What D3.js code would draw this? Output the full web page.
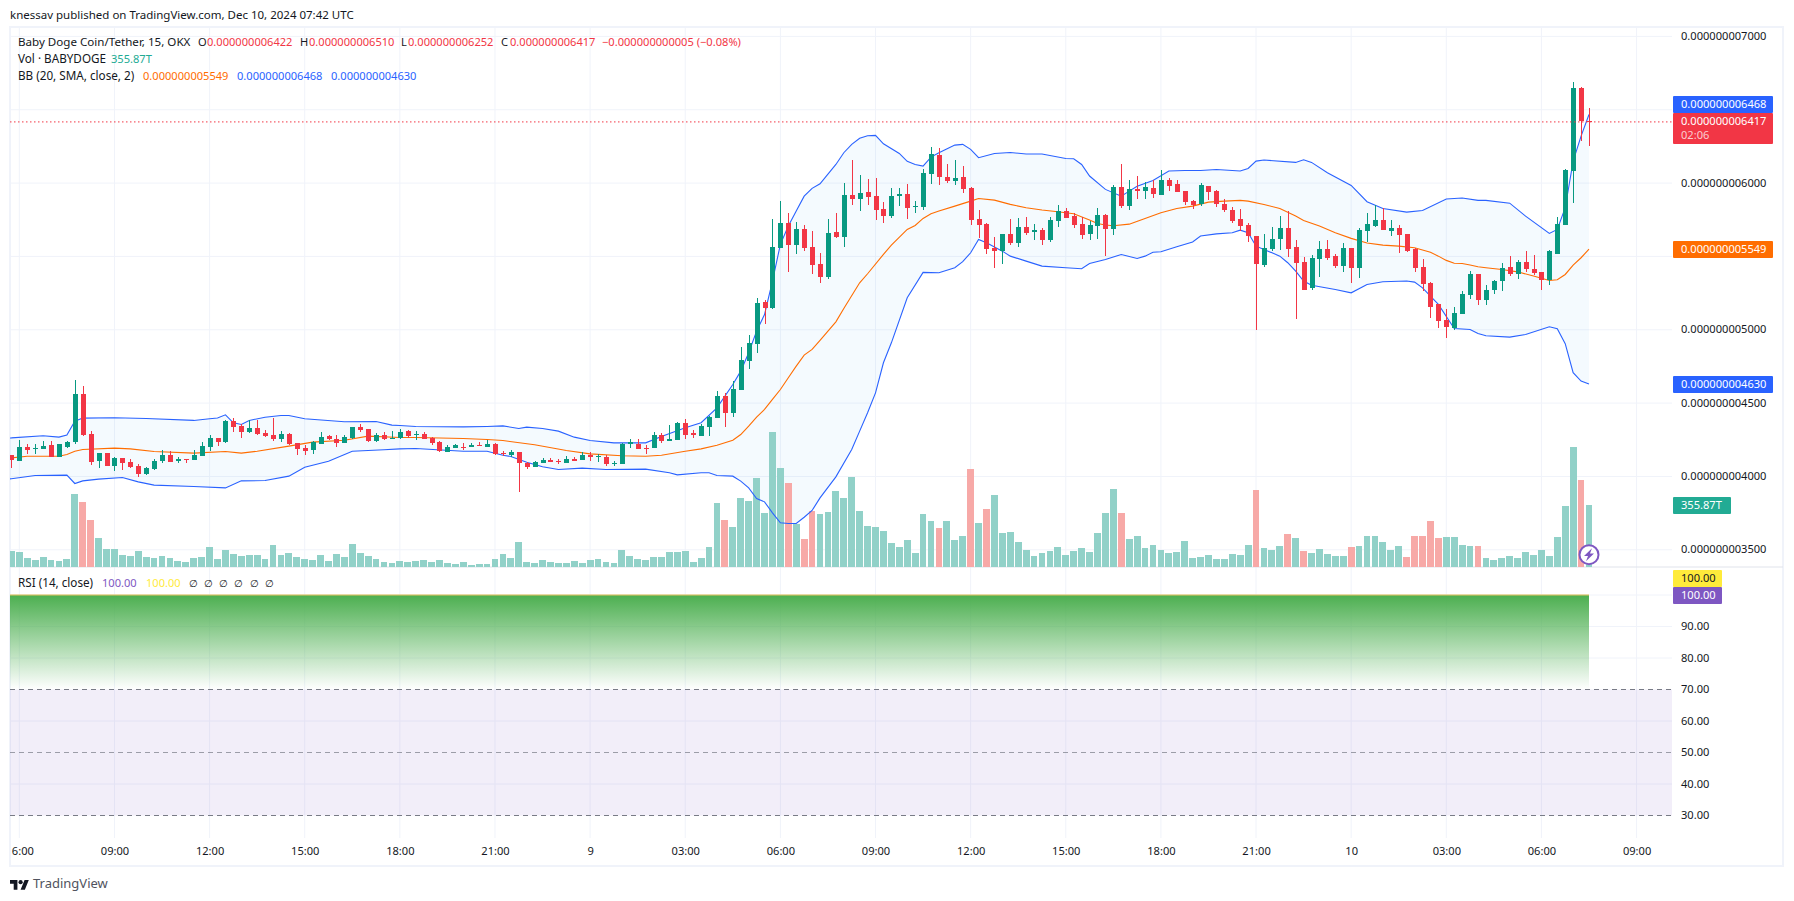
<!DOCTYPE html>
<html>
<head>
<meta charset="utf-8">
<script src="https://cdn.jsdelivr.net/npm/d3@7"></script>
<style>
  html, body { margin: 0; background: #fff; }
  svg { display: block; }
  text { font-family: "Noto Sans", sans-serif; font-size: 11.1px; fill: #131722; }
</style>
</head>
<body>
<svg id="chart" width="1794" height="901"></svg>
<script>
// prices are in units of 1e-12 USDT, bar 0 is the 05:45 candle of Dec 8
var barOpen = [
  4145,4104,4200,4188,4186,4213,4132,4204,4234,4561,
  4288,4104,4159,4070,4125,4097,4070,4016,4050,4104,
  4145,4104,4118,4111,4138,4200,4261,4234,4377,4343,
  4302,4329,4295,4282,4254,4288,4227,4193,4179,4220,
  4275,4254,4227,4261,4336,4322,4241,4282,4257,4263,
  4309,4282,4288,4261,4234,4166,4193,4204,4200,4213,
  4200,4220,4159,4145,4166,4091,4063,4091,4111,4104,
  4091,4118,4111,4145,4136,4132,4084,4084,4222,4220,
  4193,4193,4282,4241,4247,4363,4293,4275,4336,4398,
  4548,4432,4588,4786,4904,5189,5148,5557,5727,5577,
  5686,5564,5448,5359,5666,5632,5918,5891,5939,5911,
  5823,5775,5911,5925,5836,5836,6061,6191,6041,6014,
  6041,5966,5755,5720,5557,5536,5652,5591,5700,5668,
  5680,5611,5741,5809,5775,5720,5652,5707,5782,5686,
  5973,5843,5959,5945,5966,5918,6020,5993,5945,5877,
  5857,5979,5945,5857,5816,5754,5714,5639,5441,5550,
  5618,5693,5563,5461,5284,5482,5550,5502,5434,5557,
  5420,5673,5707,5748,5673,5693,5652,5550,5427,5318,
  5175,5066,5011,5107,5236,5379,5202,5270,5332,5427,
  5379,5461,5413,5393,5339,5516,5713,6082,6648,6422
];
var barHigh = [
  4145,4247,4218,4218,4245,4241,4220,4241,4657,4616,
  4313,4161,4159,4132,4125,4116,4086,4063,4116,4179,
  4172,4132,4122,4177,4232,4282,4261,4382,4398,4359,
  4384,4384,4320,4400,4307,4295,4227,4213,4241,4302,
  4282,4282,4282,4336,4357,4322,4295,4302,4309,4322,
  4320,4309,4300,4268,4241,4213,4220,4227,4227,4234,
  4247,4227,4172,4177,4166,4097,4104,4125,4125,4118,
  4138,4132,4166,4166,4152,4145,4104,4227,4254,4254,
  4213,4302,4295,4350,4370,4391,4316,4357,4411,4582,
  4568,4650,4882,4964,5216,5202,5755,5877,5795,5734,
  5714,5673,5523,5755,5795,6000,6157,6055,6027,6034,
  5870,5966,5966,5993,5877,6095,6245,6239,6130,6157,
  6116,5973,5816,5727,5632,5652,5755,5761,5768,5720,
  5693,5768,5850,5830,5795,5768,5741,5829,5788,5986,
  6130,6020,6048,6007,6020,6089,6034,6020,5945,5884,
  6000,5979,5952,5891,5836,5823,5727,5639,5652,5700,
  5775,5809,5611,5495,5509,5604,5611,5516,5591,5557,
  5693,5795,5850,5829,5748,5714,5652,5557,5482,5325,
  5175,5141,5154,5263,5400,5379,5304,5339,5454,5502,
  5475,5536,5509,5393,5543,5768,6095,6689,6654,6510
];
var barLow = [
  4059,4104,4154,4154,4186,4132,4132,4193,4222,4275,
  4079,4057,4070,4036,4043,4057,3995,4009,4045,4093,
  4097,4093,4091,4111,4138,4172,4207,4227,4302,4261,
  4295,4282,4268,4241,4234,4213,4145,4145,4152,4220,
  4247,4200,4227,4254,4302,4234,4234,4247,4254,4254,
  4263,4250,4254,4213,4166,4166,4191,4179,4200,4207,
  4200,4145,4138,4134,3893,4050,4063,4091,4097,4084,
  4091,4104,4111,4104,4097,4070,4070,4084,4193,4186,
  4152,4193,4227,4241,4247,4254,4261,4275,4275,4398,
  4336,4404,4588,4732,4841,5039,5141,5557,5393,5516,
  5536,5379,5318,5345,5625,5564,5850,5809,5850,5748,
  5727,5761,5843,5755,5795,5816,5993,5986,6000,5986,
  5932,5714,5625,5516,5420,5448,5577,5564,5645,5611,
  5577,5598,5700,5761,5693,5618,5611,5618,5502,5645,
  5829,5816,5891,5891,5898,5918,5945,5939,5850,5823,
  5843,5884,5836,5802,5727,5673,5598,4998,5427,5536,
  5543,5495,5073,5270,5270,5359,5475,5420,5393,5318,
  5352,5598,5700,5679,5639,5523,5529,5393,5263,5079,
  5011,4943,4998,5107,5209,5168,5168,5241,5263,5366,
  5345,5393,5373,5270,5304,5516,5713,5864,6286,6252
];
var barClose = [
  4111,4200,4179,4193,4207,4136,4220,4234,4561,4282,
  4097,4159,4070,4125,4091,4063,4016,4057,4104,4145,
  4097,4118,4111,4145,4207,4261,4234,4377,4336,4302,
  4329,4288,4275,4254,4288,4220,4186,4172,4236,4268,
  4254,4227,4268,4336,4316,4241,4282,4254,4263,4300,
  4275,4288,4254,4227,4172,4200,4213,4200,4213,4207,
  4220,4152,4152,4166,4091,4063,4097,4111,4097,4097,
  4118,4104,4145,4132,4141,4084,4091,4220,4234,4186,
  4186,4282,4241,4254,4363,4282,4286,4343,4404,4548,
  4432,4595,4793,4909,5182,5148,5564,5727,5577,5686,
  5557,5441,5359,5659,5632,5918,5891,5932,5905,5816,
  5775,5911,5925,5830,5843,6068,6198,6041,6014,6034,
  5959,5748,5714,5550,5536,5652,5591,5700,5659,5680,
  5611,5748,5809,5761,5714,5645,5714,5782,5686,5973,
  5843,5959,5945,5973,5925,6020,5979,5939,5870,5850,
  5986,5939,5857,5816,5741,5707,5639,5448,5557,5618,
  5693,5550,5454,5270,5488,5550,5488,5434,5557,5420,
  5679,5720,5748,5679,5693,5645,5536,5420,5311,5154,
  5059,5018,5113,5243,5379,5202,5270,5332,5420,5379,
  5461,5413,5386,5339,5536,5720,6089,6648,6422,6417
];
// volume in T (1e12 BABYDOGE)
var barVolume = [
  92,86,52,40,57,40,34,46,419,373,
  270,166,103,103,69,63,92,57,52,63,
  52,34,29,52,57,115,46,98,75,63,
  69,69,46,126,69,80,57,46,40,69,
  34,75,57,132,80,63,46,29,23,34,
  29,34,40,29,40,23,17,29,11,17,
  17,46,75,52,143,29,23,40,29,23,
  23,34,23,40,46,29,23,98,63,46,
  40,57,57,86,86,92,29,52,115,367,
  270,230,396,379,511,310,775,568,482,247,
  161,321,304,316,436,396,517,321,235,230,
  207,138,115,155,80,304,264,224,264,155,
  178,562,253,333,413,195,201,143,98,63,
  80,92,115,69,92,109,86,195,310,448,
  310,161,178,109,126,98,80,86,149,52,
  57,69,46,46,75,69,126,442,109,98,
  121,189,166,92,80,103,75,63,63,115,
  121,178,178,143,98,121,57,178,178,264,
  166,172,172,126,121,121,54,42,54,65,
  54,88,71,99,65,174,352,691,501,355.87
];
// the volume bars that are drawn in the falling colour
var downVolumeBars = [9,10,90,98,100,101,117,121,123,140,157,161,163,169,176,177,178,179,180,185,198];

// Bollinger bands, read at these bars
var bbUpperBars = [
  -1,0,4,6,7,8,9,13,17,23,25,
  26,27,28,29,30,32,34,35,37,42,
  46,48,49,51,57,60,62,64,65,67,
  69,71,73,76,80,82,85,87,89,91,
  92,93,94,95,96,97,98,99,100,101,
  102,104,105,106,107,108,109,110,112,113,
  114,115,116,117,119,120,121,122,124,126,
  128,130,133,134,135,136,138,140,141,142,
  144,146,148,150,152,155,156,157,158,162,
  163,164,166,169,171,173,176,178,181,183,
  185,186,189,191,194,195,196,197,198,199
];
var bbUpper = [
  4261,4263,4277,4268,4282,4377,4398,4400,4395,4382,4393,
  4398,4420,4366,4354,4382,4404,4416,4416,4393,4373,
  4375,4350,4347,4341,4338,4341,4345,4327,4336,4327,
  4309,4268,4245,4229,4229,4272,4332,4366,4468,4627,
  4718,4843,4991,5104,5332,5582,5707,5809,5911,5964,
  5995,6127,6207,6264,6305,6323,6325,6268,6202,6148,
  6127,6116,6177,6207,6259,6264,6230,6173,6202,6209,
  6198,6198,6168,6166,6127,6048,5957,5911,5945,5979,
  6018,6082,6086,6086,6093,6082,6100,6150,6157,6141,
  6159,6141,6070,5984,5873,5827,5802,5813,5891,5898,
  5882,5882,5863,5775,5657,5684,5832,6150,6320,6468
];
var bbBasisBars = [
  -1,0,2,6,7,8,9,13,15,18,23,
  27,29,31,35,38,42,45,49,51,57,
  60,62,66,70,73,77,80,82,85,87,
  89,91,92,93,94,95,96,97,98,99,
  100,101,102,104,105,107,108,110,111,113,
  114,115,116,117,119,121,122,124,126,128,
  130,132,134,136,137,138,139,141,143,145,
  147,149,151,153,155,156,158,160,162,163,
  165,167,169,171,173,175,177,179,180,181,
  182,183,184,185,186,188,190,192,194,195,
  196,197,198,199
];
var bbBasis = [
  4125,4127,4138,4138,4150,4172,4184,4193,4188,4170,4159,
  4170,4159,4172,4207,4234,4247,4275,4266,4266,4259,
  4252,4245,4216,4177,4154,4141,4138,4145,4172,4188,
  4213,4247,4286,4343,4404,4457,4525,4593,4673,4752,
  4827,4866,4927,5054,5145,5320,5382,5514,5577,5684,
  5711,5759,5791,5809,5843,5877,5895,5884,5855,5832,
  5816,5805,5791,5748,5725,5714,5709,5720,5759,5798,
  5827,5843,5870,5877,5882,5877,5854,5827,5775,5745,
  5707,5661,5623,5591,5577,5570,5559,5529,5502,5473,
  5454,5452,5441,5430,5423,5411,5395,5366,5336,5341,
  5377,5441,5491,5549
];
var bbLowerBars = [
  -1,0,3,7,8,9,11,14,16,18,23,
  27,29,32,35,37,40,43,47,49,51,
  57,60,62,63,65,67,69,72,75,80,
  83,84,87,88,89,91,92,93,94,95,
  96,97,98,99,100,101,102,104,106,107,
  108,109,110,111,113,115,117,119,120,121,
  122,123,125,126,128,130,133,135,136,138,
  140,142,143,144,145,147,149,150,152,154,
  155,156,157,158,160,161,162,163,164,167,
  169,171,173,176,177,178,180,182,184,185,
  186,189,191,194,195,196,197,198,199
];
var bbLower = [
  3982,3984,4007,4009,3952,3970,3982,3993,3963,3941,3932,
  3922,3970,3972,4002,4063,4104,4172,4182,4188,4191,
  4172,4172,4145,4136,4097,4066,4047,4057,4047,4050,
  4025,4011,4025,4025,4007,4002,3968,3922,3850,3827,
  3752,3684,3679,3679,3722,3768,3854,3997,4184,4309,
  4434,4570,4775,4911,5218,5391,5389,5423,5464,5525,
  5616,5593,5536,5502,5468,5434,5423,5416,5452,5479,
  5513,5486,5502,5529,5532,5566,5598,5639,5654,5661,
  5679,5661,5570,5548,5502,5457,5400,5332,5304,5275,
  5252,5309,5327,5332,5325,5286,5173,5009,5002,4975,
  4959,4950,4968,5020,5007,4905,4707,4650,4630
];

// RSI sits at 100 for the whole visible range
var rsiBars = [-1, 199];
var rsiLine = [100, 100];
var rsiMa = [100, 100];

var priceTicks = [3500,4000,4500,5000,5500,6000,6500,7000];
// 5500 and 6500 are covered by the value labels on the scale
var priceTickLabels = [3500,4000,4500,5000,6000,7000];
var rsiTicks = [100,90,80,70,60,50,40,30];
var rsiDashed = [70,50,30];
var timeTickBars = [1,13,25,37,49,61,73,85,97,109,121,133,145,157,169,181,193,205];
var timeTickLabels = ['6:00','09:00','12:00','15:00','18:00','21:00','9','03:00','06:00','09:00','12:00','15:00','18:00','21:00','10','03:00','06:00','09:00'];

var svg = d3.select('#chart');

var paneLeft = 10, paneRight = 1672, mainTop = 28, mainBottom = 567, axisBottom = 838;

var x = d3.scaleLinear().domain([0, 199]).range([11.4, 1589]);
var yPrice = d3.scaleLinear().domain([3500, 7000]).range([549.8, 36.4]);
var yVolume = d3.scaleLinear().domain([0, 800]).range([567, 427.6]);
var yRsi = d3.scaleLinear().domain([30, 100]).range([815.5, 595]);

var RED = '#f23645', GREEN = '#089981', BLUE = '#2962ff', ORANGE = '#ff6d00', PURPLE = '#7e57c2', YELLOW = '#ffeb3b';
var price = d => (d / 1e12).toFixed(12);

var defs = svg.append('defs');
defs.append('clipPath').attr('id', 'mainClip').append('rect')
    .attr('x', paneLeft).attr('y', mainTop).attr('width', paneRight - paneLeft).attr('height', mainBottom - mainTop);
var grad = defs.append('linearGradient').attr('id', 'rsiGreen').attr('x1', 0).attr('x2', 0).attr('y1', 0).attr('y2', 1);
grad.append('stop').attr('offset', 0).attr('stop-color', '#4caf50').attr('stop-opacity', 1);
grad.append('stop').attr('offset', 1).attr('stop-color', '#4caf50').attr('stop-opacity', 0);

// outer frame
svg.append('rect').attr('x', 10).attr('y', 27).attr('width', 1773).attr('height', 839)
    .attr('fill', '#fff').attr('stroke', '#f0f3fa').attr('stroke-width', 2);

// grid
var gridColor = '#f0f3fa';
svg.append('g').selectAll('line').data(timeTickBars).enter().append('line')
    .attr('x1', d => x(d)).attr('x2', d => x(d)).attr('y1', mainTop).attr('y2', axisBottom)
    .attr('stroke', gridColor).attr('stroke-width', 1);
svg.append('g').selectAll('line').data(priceTicks).enter().append('line')
    .attr('x1', paneLeft).attr('x2', paneRight).attr('y1', d => yPrice(d)).attr('y2', d => yPrice(d))
    .attr('stroke', gridColor).attr('stroke-width', 1);
svg.append('g').selectAll('line').data(rsiTicks.filter(d => rsiDashed.indexOf(d) < 0)).enter().append('line')
    .attr('x1', paneLeft).attr('x2', paneRight).attr('y1', d => yRsi(d)).attr('y2', d => yRsi(d))
    .attr('stroke', gridColor).attr('stroke-width', 1);

// pane separator
svg.append('line').attr('x1', paneLeft).attr('x2', 1783).attr('y1', mainBottom).attr('y2', mainBottom)
    .attr('stroke', '#e0e3eb').attr('stroke-width', 1);

var main = svg.append('g').attr('clip-path', 'url(#mainClip)');

// Bollinger fill: upper forwards, lower backwards
var bandPoints = bbUpper.map((v, i) => [bbUpperBars[i], v])
    .concat(bbLower.map((v, i) => [bbLowerBars[i], v]).reverse());
var bandLine = d3.line().x(d => x(d[0])).y(d => yPrice(d[1]));
main.append('path').attr('d', bandLine(bandPoints) + 'Z').attr('fill', '#2196f3').attr('fill-opacity', 0.05);

// volume
main.selectAll('.vol').data(barVolume).enter().append('rect')
    .attr('class', 'vol')
    .attr('x', (d, i) => Math.round(x(i) - 3.4))
    .attr('width', (d, i) => Math.round(x(i) + 3.4) - Math.round(x(i) - 3.4))
    .attr('y', d => yVolume(d))
    .attr('height', d => yVolume(0) - yVolume(d))
    .attr('shape-rendering', 'crispEdges')
    .attr('fill', (d, i) => downVolumeBars.indexOf(i) >= 0 ? '#f7a9a7' : '#91d1c8');

// Bollinger lines
var drawBand = function(bars, values, color) {
    main.append('path')
        .attr('d', bandLine(values.map((v, i) => [bars[i], v])))
        .attr('fill', 'none').attr('stroke', color).attr('stroke-width', 1.1);
};
drawBand(bbUpperBars, bbUpper, BLUE);
drawBand(bbLowerBars, bbLower, BLUE);
drawBand(bbBasisBars, bbBasis, ORANGE);

// candles
var upColor = i => barClose[i] >= barOpen[i] ? GREEN : RED;
main.selectAll('.wick').data(barHigh).enter().append('rect')
    .attr('class', 'wick')
    .attr('x', (d, i) => Math.round(x(i)) - 0.5)
    .attr('width', 1)
    .attr('y', d => yPrice(d))
    .attr('height', (d, i) => yPrice(barLow[i]) - yPrice(d))
    .attr('shape-rendering', 'crispEdges')
    .attr('fill', (d, i) => upColor(i));
main.selectAll('.body').data(barOpen).enter().append('rect')
    .attr('class', 'body')
    .attr('x', (d, i) => Math.round(x(i)) - 2.5)
    .attr('width', 5)
    .attr('y', (d, i) => yPrice(Math.max(d, barClose[i])))
    .attr('height', (d, i) => Math.max(1, Math.abs(yPrice(d) - yPrice(barClose[i]))))
    .attr('shape-rendering', 'crispEdges')
    .attr('fill', (d, i) => upColor(i));

// last price line
var lastClose = barClose[barClose.length - 1];
svg.append('line').attr('x1', paneLeft).attr('x2', paneRight).attr('y1', yPrice(lastClose)).attr('y2', yPrice(lastClose))
    .attr('stroke', RED).attr('stroke-width', 1).attr('stroke-dasharray', '1.5 2.5');

// RSI pane
svg.append('rect').attr('x', paneLeft).attr('width', paneRight - paneLeft)
    .attr('y', yRsi(70)).attr('height', yRsi(30) - yRsi(70))
    .attr('fill', PURPLE).attr('fill-opacity', 0.1);
svg.append('rect').attr('x', paneLeft).attr('width', x(199) - paneLeft)
    .attr('y', yRsi(100)).attr('height', yRsi(70) - yRsi(100))
    .attr('fill', 'url(#rsiGreen)');
svg.append('g').selectAll('line').data(rsiDashed).enter().append('line')
    .attr('x1', paneLeft).attr('x2', paneRight).attr('y1', d => yRsi(d)).attr('y2', d => yRsi(d))
    .attr('stroke', '#787b86').attr('stroke-width', 1).attr('stroke-dasharray', '5 4')
    .attr('stroke-opacity', d => d === 50 ? 0.7 : 1);
var rsiPath = d3.line().x((d, i) => Math.max(paneLeft, x(rsiBars[i]))).y(d => yRsi(d));
svg.append('path').attr('d', rsiPath(rsiLine)).attr('fill', 'none').attr('stroke', PURPLE).attr('stroke-width', 1.5).attr('stroke-opacity', 0.35);
svg.append('path').attr('d', rsiPath(rsiMa)).attr('fill', 'none').attr('stroke', YELLOW).attr('stroke-width', 1.5).attr('stroke-opacity', 0.55);

// axes
var priceAxis = d3.axisRight(yPrice).tickValues(priceTickLabels).tickFormat(price).tickSize(0).tickPadding(9);
svg.append('g').attr('transform', 'translate(' + paneRight + ',-0.5)').call(priceAxis)
    .call(g => g.select('.domain').remove());
var rsiAxis = d3.axisRight(yRsi).tickValues(rsiTicks.slice(1)).tickFormat(d => d.toFixed(2)).tickSize(0).tickPadding(9);
svg.append('g').attr('transform', 'translate(' + paneRight + ',-0.5)').call(rsiAxis)
    .call(g => g.select('.domain').remove());
var timeAxis = d3.axisBottom(x).tickValues(timeTickBars).tickFormat((d, i) => timeTickLabels[i]).tickSize(0).tickPadding(0);
svg.append('g').attr('transform', 'translate(0,847)').call(timeAxis)
    .call(g => g.select('.domain').remove())
    .call(g => g.selectAll('text').attr('dx', (d, i) => i === 0 ? 3 : 0));
svg.selectAll('.tick text').style('font-family', '"Noto Sans", sans-serif').style('font-size', '11.1px').style('fill', '#131722');

// price scale labels
var addLabel = function(top, height, right, fill, txt, color) {
    svg.append('rect').attr('x', 1673).attr('y', top).attr('width', right - 1673).attr('height', height).attr('rx', 1).attr('fill', fill);
    svg.append('text').attr('x', 1681).attr('y', top + 8.5).attr('dy', '0.35em').style('fill', color).text(txt);
};
addLabel(96, 17, 1773, BLUE, price(6468), '#fff');
addLabel(113, 31, 1773, RED, price(lastClose), '#fff');
svg.append('text').attr('x', 1681).attr('y', 135).attr('dy', '0.35em').style('fill', '#fff').style('fill-opacity', 0.75).text('02:06');
addLabel(241, 17, 1773, ORANGE, price(5549), '#fff');
addLabel(376, 17, 1773, BLUE, price(4630), '#fff');
addLabel(497, 17, 1731, '#22ab94', '355.87T', '#fff');
addLabel(570, 17, 1722, YELLOW, '100.00', '#131722');
addLabel(587, 17, 1722, PURPLE, '100.00', '#fff');

// legend texts, the names run a little wider than the digits
var addText = function(px, py, txt, color, size) {
    svg.append('text').attr('x', px).attr('y', py).attr('dy', '0.35em')
        .style('fill', color || '#131722').style('font-size', (size || 11.1) + 'px').text(txt);
};
addText(10, 15, 'knessav published on TradingView.com, Dec 10, 2024 07:42 UTC', '#131722', 11.5);
addText(18, 42, 'Baby Doge Coin/Tether, 15, OKX', '#131722', 11.6);
addText(198, 42, 'O'); addText(207, 42, price(barOpen[199]), RED);
addText(300, 42, 'H'); addText(309, 42, price(barHigh[199]), RED);
addText(401, 42, 'L'); addText(408, 42, price(barLow[199]), RED);
addText(501, 42, 'C'); addText(510, 42, price(barClose[199]), RED);
addText(602, 42, '\u22120.000000000005 (\u22120.08%)', RED);
addText(18, 59, 'Vol \u00b7 BABYDOGE', '#131722', 11.7);
addText(111, 59, '355.87T', '#22ab94');
addText(18, 76, 'BB (20, SMA, close, 2)', '#131722', 11.7);
addText(143, 76, price(5549), ORANGE);
addText(237, 76, price(6468), BLUE);
addText(331, 76, price(4630), BLUE);
addText(18, 583, 'RSI (14, close)', '#131722', 11.7);
addText(102, 583, '100.00', PURPLE);
addText(146, 583, '100.00', YELLOW);
[189, 204, 219, 234, 250, 265].forEach(px => addText(px, 583, '\u2205', '#131722', 10));

// replay button on the last bar
var bolt = svg.append('g').attr('transform', 'translate(' + x(199) + ',554.7)');
bolt.append('circle').attr('r', 9.5).attr('fill', '#fff').attr('stroke', PURPLE).attr('stroke-width', 2);
bolt.append('path').attr('d', 'M3,-6.5 L-5,1.2 L-1,1.2 L-3,6.5 L5,-1.2 L1,-1.2 Z').attr('fill', PURPLE);

// TradingView mark
var logo = svg.append('g').attr('transform', 'translate(10,878) scale(0.53)').attr('fill', '#131722');
logo.append('path').attr('d', 'M14 22H7V11H0V4h14v18zM28 22h-8l7.5-18h8L28 22z');
logo.append('circle').attr('cx', 20).attr('cy', 8).attr('r', 4);
svg.append('text').attr('x', 33).attr('y', 883).attr('dy', '0.35em')
    .style('font-size', '13px').style('fill', '#50535e').text('TradingView');
</script>
</body>
</html>
